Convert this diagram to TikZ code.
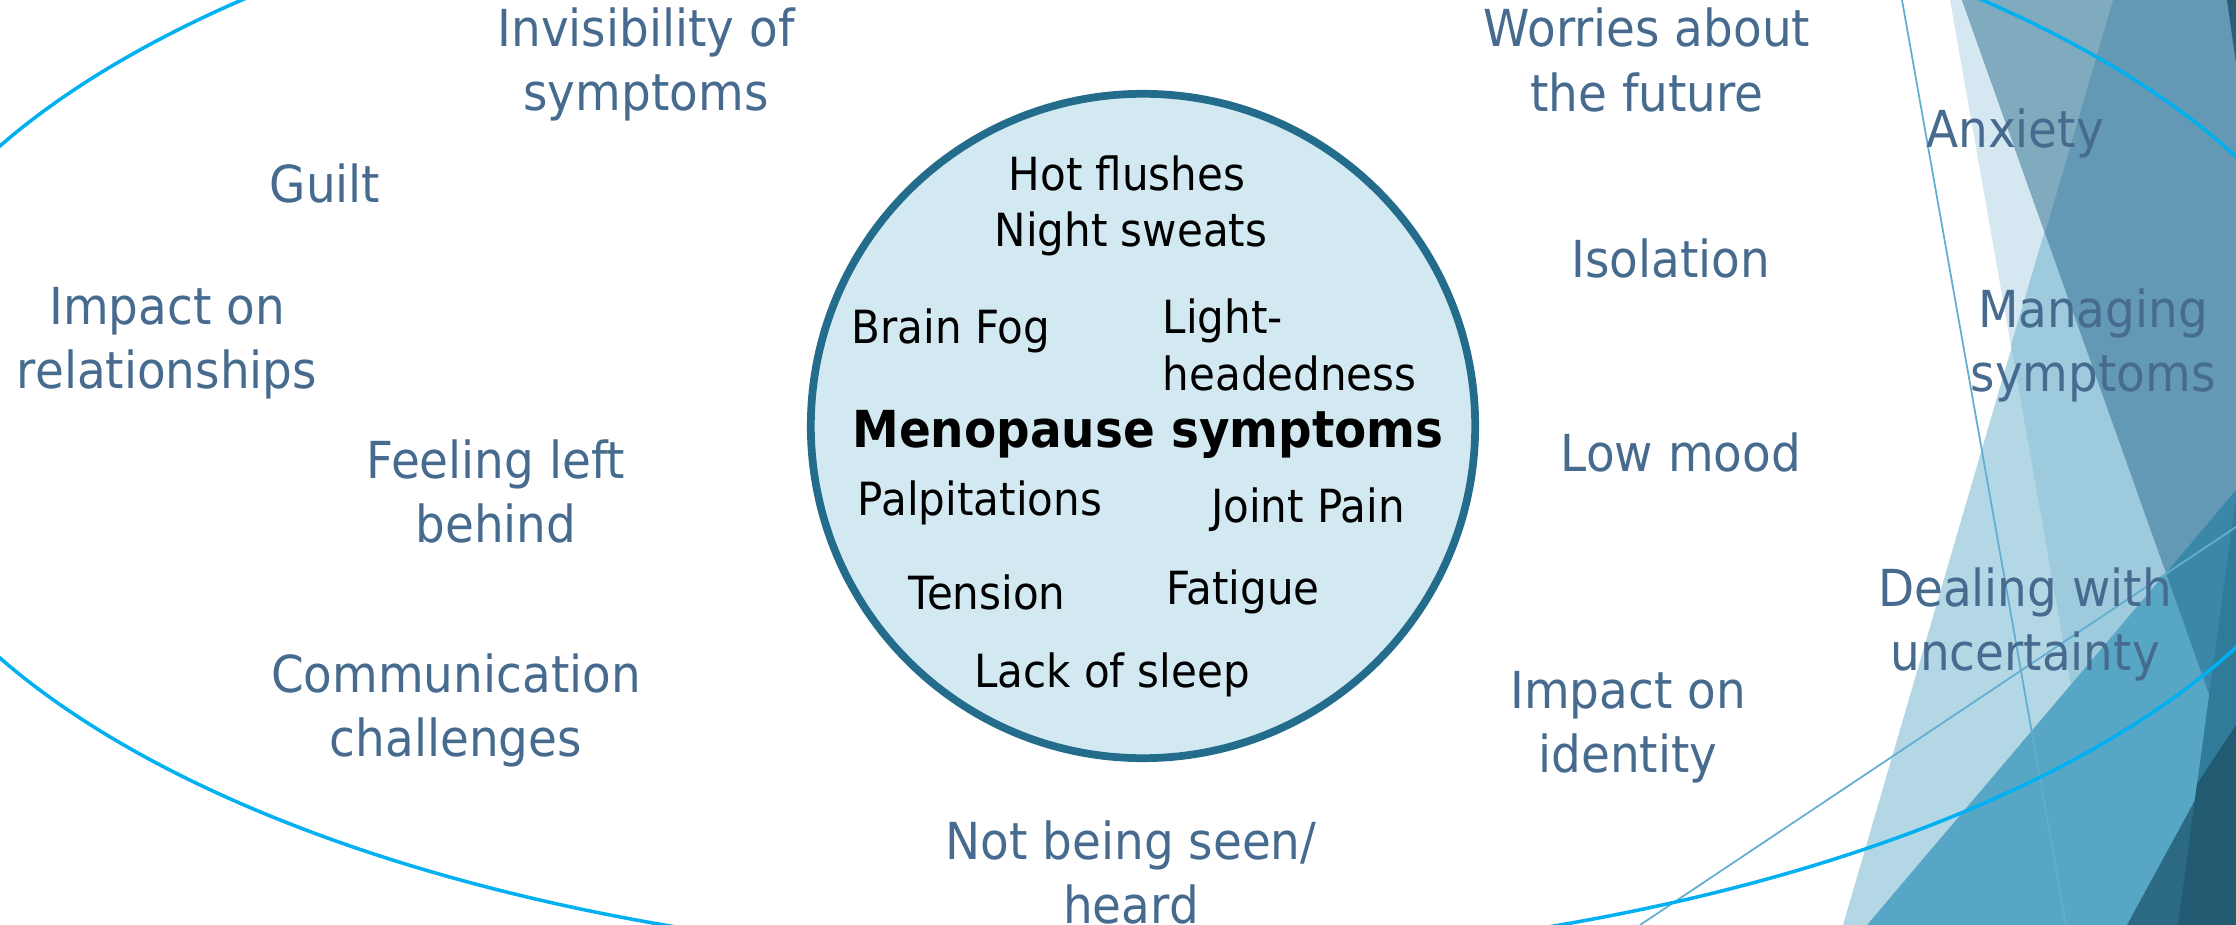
\documentclass[tikz,border=0pt]{standalone}
\usepackage{fontspec}
\setmainfont{DejaVu Sans}[FakeStretch=0.92]
\definecolor{txtblue}{HTML}{466B8F}
\definecolor{ringblue}{HTML}{246C8C}
\definecolor{ringfill}{HTML}{D3E9F2}
\definecolor{ellblue}{HTML}{00B0F0}
\definecolor{thinblue}{HTML}{62AED0}
\definecolor{fpale}{HTML}{D5E8F1}
\definecolor{flight}{HTML}{B4D7E6}
\definecolor{flightp}{HTML}{9ECADD}
\definecolor{fgray}{HTML}{80AABD}
\definecolor{fsteel}{HTML}{6399B5}
\definecolor{fmid}{HTML}{57A6C6}
\definecolor{fmidd}{HTML}{3B87A7}
\definecolor{fE}{HTML}{2F7B99}
\definecolor{fD}{HTML}{2C6A84}
\definecolor{fDE}{HTML}{225A72}
\definecolor{ftop}{HTML}{2B5F76}
\tikzset{
  outer/.style={text=txtblue, font=\fontsize{14.5}{18.2}\selectfont, align=center, inner sep=0pt},
  inner/.style={text=black, font=\fontsize{13}{16.2}\selectfont, inner sep=0pt},
  facet/.style={draw=none}
}
\begin{document}
\begin{tikzpicture}[x=0.01cm,y=-0.01cm]
\useasboundingbox (0,0) rectangle (2236,925);
\fill[white] (0,0) rectangle (2236,925);
\begin{scope}
\clip (0,0) rectangle (2236,925);
% facet decoration
\fill[fpale] (1950,0) -- (2236,0) -- (2236,925) -- (2113,925) -- cycle;
\fill[flight] (2113,0) -- (2236,0) -- (2236,925) -- (1843,925) -- cycle;
\fill[flightp] (2113,0) -- (2236,0) -- (2236,925) -- (2113,925) -- (2011,345) -- cycle;
\fill[fsteel] (1962,0) -- (2236,0) -- (2236,770) -- cycle;
\fill[fgray] (1962,0) -- (2113,0) -- (2045,233) -- cycle;
\fill[fmid] (2236,490) -- (2236,925) -- (1867,925) -- cycle;
\fill[fmidd] (2236,490) -- (2166,573) -- (2236,770) -- cycle;
\fill[fE] (2236,497) -- (2236,925) -- (2178,925) -- cycle;
\fill[fD] (2236,725) -- (2236,925) -- (2127,925) -- cycle;
\fill[fDE] (2236,725) -- (2236,925) -- (2178,925) -- (2197,784) -- cycle;
\fill[ftop] (2227,0) -- (2236,0) -- (2236,63) -- cycle;
% thin lines
\coordinate (t1a) at (1902,0);
\coordinate (t1b) at (2066,925);
\coordinate (t2a) at (1640,925);
\coordinate (t2b) at (2236,527);
\draw[thinblue, line width=0.5pt] (t1a) -- (t1b);
\draw[thinblue, line width=0.5pt] (t2a) -- (t2b);
% big ellipse
\draw[ellblue, line width=1pt] (1112,402) ellipse [x radius=1250, y radius=560];
\end{scope}
% central circle
\node[circle, draw=ringblue, fill=ringfill, line width=2.2pt, minimum size=6.64cm, inner sep=0pt] (sym) at (1143,426) {};
\node[inner] (hot) at (1127,173) {Hot flushes};
\node[inner] (night) at (1131,234) {Night sweats};
\node[inner] (fog) at (951,331) {Brain Fog};
\node[inner, align=left, anchor=west] (light) at (1162,345) {Light-\\headedness};
\node[inner, font=\bfseries\fontsize{14.5}{18}\selectfont] (meno) at (1148,434) {Menopause symptoms};
\node[inner] (palp) at (980,503) {Palpitations};
\node[inner] (joint) at (1308,510) {Joint Pain};
\node[inner] (tension) at (987,592) {Tension};
\node[inner] (fatigue) at (1243,592) {Fatigue};
\node[inner] (sleep) at (1112,675) {Lack of sleep};
% outer texts
\node[outer] (invis) at (646,64) {Invisibility of\\symptoms};
\node[outer] (guilt) at (325,183) {Guilt};
\node[outer] (relat) at (167,343) {Impact on\\relationships};
\node[outer] (left) at (496,491) {Feeling left\\behind};
\node[outer] (comm) at (456,710) {Communication\\challenges};
\node[outer] (seen) at (1131,872) {Not being seen/\\heard};
\node[outer] (worry) at (1647,60) {Worries about\\the future};
\node[outer] (iso) at (1671,258) {Isolation};
\node[outer] (low) at (1681,452) {Low mood};
\node[outer] (ident) at (1628,727) {Impact on\\identity};
\node[outer] (anx) at (2015,133) {Anxiety};
\node[outer] (manag) at (2093,345) {Managing\\symptoms};
\node[outer] (deal) at (2025,624) {Dealing with\\uncertainty};
\end{tikzpicture}
\end{document}
